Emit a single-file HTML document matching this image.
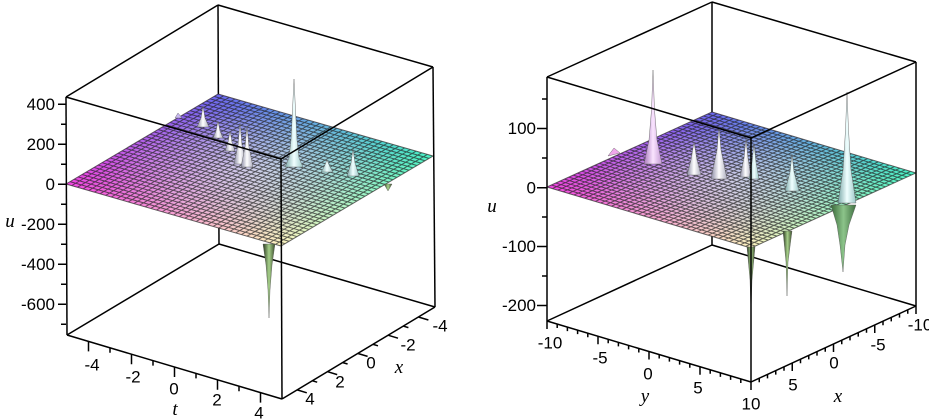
<!DOCTYPE html>
<html><head><meta charset="utf-8"><style>
html,body{margin:0;padding:0;background:#fff;}
svg{display:block;}
.tl{font-family:"Liberation Sans",Arial,sans-serif;font-size:17px;fill:#000;}
.an{font-family:"Liberation Serif",serif;font-style:italic;font-size:19px;fill:#000;}
</style></head><body>
<svg width="929" height="419" viewBox="0 0 929 419" xmlns="http://www.w3.org/2000/svg">
<defs>
 <linearGradient id="gu0" x1="0" y1="0" x2="1" y2="0"><stop offset="0" stop-color="#f244e2"/><stop offset="1" stop-color="#fff6c0"/></linearGradient>
 <linearGradient id="gu1" x1="0" y1="0" x2="1" y2="0"><stop offset="0" stop-color="#6a68f2"/><stop offset="1" stop-color="#48f2c4"/></linearGradient>
 <linearGradient id="gv" x1="0" y1="0" x2="0" y2="1"><stop offset="0" stop-color="#000"/><stop offset="1" stop-color="#fff"/></linearGradient>
 <mask id="mv" maskContentUnits="objectBoundingBox"><rect width="1" height="1" fill="url(#gv)"/></mask>
 <radialGradient id="gw" cx="0.5" cy="0.5" r="0.55"><stop offset="0" stop-color="#fff" stop-opacity="0.45"/><stop offset="1" stop-color="#fff" stop-opacity="0"/></radialGradient>
 <linearGradient id="gWhite" x1="0" y1="0" x2="1" y2="0"><stop offset="0" stop-color="#8a8aa4"/><stop offset="0.5" stop-color="#ffffff"/><stop offset="1" stop-color="#aeaec0"/></linearGradient>
 <linearGradient id="gCyan" x1="0" y1="0" x2="1" y2="0"><stop offset="0" stop-color="#7aa8a8"/><stop offset="0.5" stop-color="#f0ffff"/><stop offset="1" stop-color="#9cc8c8"/></linearGradient>
 <linearGradient id="gPink" x1="0" y1="0" x2="1" y2="0"><stop offset="0" stop-color="#a878bc"/><stop offset="0.5" stop-color="#fae4ff"/><stop offset="1" stop-color="#c49ad4"/></linearGradient>
 <linearGradient id="gGreen" x1="0" y1="0" x2="1" y2="0"><stop offset="0" stop-color="#2a3820"/><stop offset="0.5" stop-color="#a6d08a"/><stop offset="1" stop-color="#3c4c2c"/></linearGradient>
 <linearGradient id="gGreen2" x1="0" y1="0" x2="1" y2="0"><stop offset="0" stop-color="#3a6a3a"/><stop offset="0.5" stop-color="#8cc48a"/><stop offset="1" stop-color="#3e6e40"/></linearGradient>
</defs>

<!-- ===================== LEFT PLOT ===================== -->
<g stroke="#000" stroke-width="1.5" fill="none">
 <line x1="218" y1="5" x2="219" y2="244"/>
 <line x1="219" y1="244" x2="67" y2="335"/>
 <line x1="219" y1="244" x2="435" y2="307"/>
</g>
<g transform="matrix(5.658,1.632,4,-2.368,66,184)">
 <rect x="0" y="0" width="38" height="38" fill="url(#gu0)"/>
 <rect x="0" y="0" width="38" height="38" fill="url(#gu1)" mask="url(#mv)"/>
 <rect x="0" y="0" width="38" height="38" fill="url(#gw)"/>
 <path fill="none" stroke="#222" stroke-opacity="0.7" stroke-width="1" vector-effect="non-scaling-stroke" d="M0 0H38M0 1H38M0 2H38M0 3H38M0 4H38M0 5H38M0 6H38M0 7H38M0 8H38M0 9H38M0 10H38M0 11H38M0 12H38M0 13H38M0 14H38M0 15H38M0 16H38M0 17H38M0 18H38M0 19H38M0 20H38M0 21H38M0 22H38M0 23H38M0 24H38M0 25H38M0 26H38M0 27H38M0 28H38M0 29H38M0 30H38M0 31H38M0 32H38M0 33H38M0 34H38M0 35H38M0 36H38M0 37H38M0 38H38M0 0V38M1 0V38M2 0V38M3 0V38M4 0V38M5 0V38M6 0V38M7 0V38M8 0V38M9 0V38M10 0V38M11 0V38M12 0V38M13 0V38M14 0V38M15 0V38M16 0V38M17 0V38M18 0V38M19 0V38M20 0V38M21 0V38M22 0V38M23 0V38M24 0V38M25 0V38M26 0V38M27 0V38M28 0V38M29 0V38M30 0V38M31 0V38M32 0V38M33 0V38M34 0V38M35 0V38M36 0V38M37 0V38M38 0V38"/>
</g>
<g stroke="#555" stroke-width="0.4">
 <polygon points="263,244 275,244 272,265 270,290 269,318 268,290 266,265" fill="url(#gGreen)"/>
 <polygon points="384,184 388,191 392,184" fill="url(#gGreen)"/>
 <polygon points="175,118 178,113 182,118" fill="#c8b8f0"/>
 <polygon points="203,106 205,118 209,127 197,127 201,118" fill="url(#gWhite)"/>
 <polygon points="218,121 220,131 223,138 213,138 216,131" fill="url(#gWhite)"/>
 <polygon points="230,131 232,142 235,151 225,151 228,142" fill="url(#gWhite)"/>
 <polygon points="240,123 242,145 246,164 234,164 238,145" fill="url(#gWhite)"/>
 <polygon points="247,126 249,147 253,167 241,167 245,147" fill="url(#gWhite)"/>
 <polygon points="327,160 330,167 333,172 321,172 324,167" fill="url(#gCyan)"/>
 <polygon points="353,149 355,163 359,176 347,176 351,163" fill="url(#gCyan)"/>
 <polygon points="294,79 295.5,110 297,140 299,158 303,167 285,167 289,158 291,140 292.5,110" fill="url(#gCyan)"/>
</g>
<g stroke="#000" stroke-width="1.5" fill="none">
 <line x1="218" y1="5" x2="66" y2="97"/>
 <line x1="218" y1="5" x2="433" y2="67"/>
 <line x1="66" y1="97" x2="281" y2="159"/>
 <line x1="281" y1="159" x2="433" y2="67"/>
 <line x1="66" y1="97" x2="67" y2="335"/>
 <line x1="281" y1="159" x2="282" y2="399"/>
 <line x1="433" y1="67" x2="435" y2="307"/>
 <line x1="67" y1="335" x2="282" y2="399"/>
 <line x1="282" y1="399" x2="435" y2="307"/>
 <path d="M58 104.3H66M61 124.3H66M58 144.3H66M61 164.3H66M58 184.3H66M61 204.3H66M58 224.3H66M61 244.3H66M58 264.3H66M61 284.3H66M58 304.3H66M61 324.3H66"/>
 <path d="M88.5 341.4v10M110 347.8v5M131.5 354.2v10M153 360.6v5M174.5 367v10M196 373.4v5M217.5 379.8v10M239 386.2v5M260.5 392.6v10"/>
 <path d="M297.2 389.9l9.6 2.9M312.4 380.8l4.8 1.4M327.6 371.7l9.6 2.9M342.8 362.6l4.8 1.4M358 353.5l9.6 2.9M373.2 344.4l4.8 1.4M388.4 335.3l9.6 2.9M403.6 326.2l4.8 1.4M418.8 317.1l9.6 2.9"/>
</g>
<g class="tl" text-anchor="end">
 <text x="55" y="110">400</text>
 <text x="55" y="150">200</text>
 <text x="55" y="190">0</text>
 <text x="55" y="230">-200</text>
 <text x="55" y="270">-400</text>
 <text x="55" y="310">-600</text>
</g>
<g class="tl" text-anchor="middle">
 <text x="92" y="370.5">-4</text>
 <text x="133" y="382.5">-2</text>
 <text x="174" y="394.5">0</text>
 <text x="217" y="405.5">2</text>
 <text x="259" y="418.5">4</text>
 <text x="310" y="404.5">4</text>
 <text x="340" y="387.5">2</text>
 <text x="371" y="368.5">0</text>
 <text x="408" y="350.5">-2</text>
 <text x="440" y="331.5">-4</text>
</g>
<text class="an" x="10" y="227" text-anchor="middle">u</text>
<text class="an" x="175" y="415" text-anchor="middle">t</text>
<text class="an" x="399" y="373" text-anchor="middle">x</text>

<!-- ===================== RIGHT PLOT ===================== -->
<g stroke="#000" stroke-width="1.5" fill="none">
 <line x1="712" y1="2" x2="712" y2="245"/>
 <line x1="712" y1="245" x2="547" y2="321"/>
 <line x1="712" y1="245" x2="916" y2="306"/>
</g>
<g transform="matrix(5.368,1.605,4.342,-1.974,547,187)">
 <rect x="0" y="0" width="38" height="38" fill="url(#gu0)"/>
 <rect x="0" y="0" width="38" height="38" fill="url(#gu1)" mask="url(#mv)"/>
 <rect x="0" y="0" width="38" height="38" fill="url(#gw)"/>
 <path fill="none" stroke="#222" stroke-opacity="0.7" stroke-width="1" vector-effect="non-scaling-stroke" d="M0 0H38M0 1H38M0 2H38M0 3H38M0 4H38M0 5H38M0 6H38M0 7H38M0 8H38M0 9H38M0 10H38M0 11H38M0 12H38M0 13H38M0 14H38M0 15H38M0 16H38M0 17H38M0 18H38M0 19H38M0 20H38M0 21H38M0 22H38M0 23H38M0 24H38M0 25H38M0 26H38M0 27H38M0 28H38M0 29H38M0 30H38M0 31H38M0 32H38M0 33H38M0 34H38M0 35H38M0 36H38M0 37H38M0 38H38M0 0V38M1 0V38M2 0V38M3 0V38M4 0V38M5 0V38M6 0V38M7 0V38M8 0V38M9 0V38M10 0V38M11 0V38M12 0V38M13 0V38M14 0V38M15 0V38M16 0V38M17 0V38M18 0V38M19 0V38M20 0V38M21 0V38M22 0V38M23 0V38M24 0V38M25 0V38M26 0V38M27 0V38M28 0V38M29 0V38M30 0V38M31 0V38M32 0V38M33 0V38M34 0V38M35 0V38M36 0V38M37 0V38M38 0V38"/>
</g>
<g stroke="#555" stroke-width="0.4">
 <polygon points="747,247 755,247 752,280 751,312 750,280" fill="url(#gGreen)"/>
 <polygon points="783,231 792,231 788,262 787,296 786,262" fill="url(#gGreen)"/>
 <polygon points="831,205 856,205 849,225 845,245 843,272 840,245 837,225" fill="url(#gGreen2)"/>
 <polygon points="608,156 614,148 620,153" fill="#f0a8ec"/>
 <polygon points="653,70 654.5,110 657,140 662,164 644,164 649,140 651.5,110" fill="url(#gPink)"/>
 <polygon points="694,142 697,160 701,175 687,175 691,160" fill="url(#gWhite)"/>
 <polygon points="719,127 721,150 727,179 711,179 717,150" fill="url(#gWhite)"/>
 <polygon points="746,139 748,158 751,177 740,177 744,158" fill="url(#gWhite)"/>
 <polygon points="754,144 756,162 759,179 749,179 752,162" fill="url(#gCyan)"/>
 <polygon points="792,154 794,172 799,191 785,191 790,172" fill="url(#gCyan)"/>
 <polygon points="847,92 848.5,130 851,170 856,203 838,203 843,170 845.5,130" fill="url(#gCyan)"/>
</g>
<g stroke="#000" stroke-width="1.5" fill="none">
 <line x1="712" y1="2" x2="547" y2="77"/>
 <line x1="712" y1="2" x2="916" y2="62"/>
 <line x1="547" y1="77" x2="751" y2="138"/>
 <line x1="751" y1="138" x2="916" y2="62"/>
 <line x1="547" y1="77" x2="547" y2="321"/>
 <line x1="751" y1="138" x2="751" y2="382"/>
 <line x1="916" y1="62" x2="916" y2="306"/>
 <line x1="547" y1="321" x2="751" y2="382"/>
 <line x1="751" y1="382" x2="916" y2="306"/>
 <path d="M542 99H547M537 128.5H547M542 158H547M537 187.7H547M542 217H547M537 246.5H547M542 276H547M537 305.5H547"/>
 <path d="M547 321v8M557.2 324.05v4M567.4 327.1v4M577.6 330.15v4M587.8 333.2v4M598 336.25v8M608.2 339.3v4M618.4 342.35v4M628.6 345.4v4M638.8 348.45v4M649 351.5v8M659.2 354.55v4M669.4 357.6v4M679.6 360.65v4M689.8 363.7v4M700 366.75v8M710.2 369.8v4M720.4 372.85v4M730.6 375.9v4M740.8 378.95v4M751 382v8"/>
 <path d="M759.25 378.2v4M767.5 374.4v4M775.75 370.6v4M784 366.8v4M792.25 363v8M800.5 359.2v4M808.75 355.4v4M817 351.6v4M825.25 347.8v4M833.5 344v8M841.75 340.2v4M850 336.4v4M858.25 332.6v4M866.5 328.8v4M874.75 325v8M883 321.2v4M891.25 317.4v4M899.5 313.6v4M907.75 309.8v4M916 306v8"/>
</g>
<g class="tl" text-anchor="end">
 <text x="536" y="134">100</text>
 <text x="536" y="193.5">0</text>
 <text x="536" y="252">-100</text>
 <text x="536" y="311">-200</text>
</g>
<g class="tl" text-anchor="middle">
 <text x="550" y="348.5">-10</text>
 <text x="600" y="363.5">-5</text>
 <text x="648" y="379.5">0</text>
 <text x="698" y="393.5">5</text>
 <text x="751" y="409.5">10</text>
 <text x="793" y="390.5">5</text>
 <text x="834" y="368.5">0</text>
 <text x="878" y="350.5">-5</text>
 <text x="920" y="330.5">-10</text>
</g>
<text class="an" x="492" y="212" text-anchor="middle">u</text>
<text class="an" x="645" y="402" text-anchor="middle">y</text>
<text class="an" x="838" y="402" text-anchor="middle">x</text>
</svg>
</body></html>
